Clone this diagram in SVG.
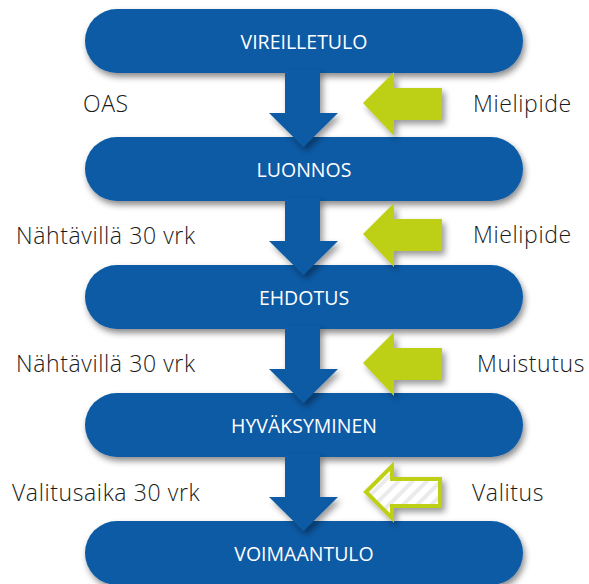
<svg xmlns="http://www.w3.org/2000/svg" width="589" height="584" viewBox="0 0 589 584">
<defs>
<filter id="sh" x="-20%" y="-30%" width="140%" height="170%">
<feDropShadow dx="2" dy="4" stdDeviation="3" flood-color="#000" flood-opacity="0.45"/>
</filter>
<filter id="ash" x="-30%" y="-30%" width="160%" height="160%">
<feDropShadow dx="3" dy="4" stdDeviation="3" flood-color="#000" flood-opacity="0.4"/>
</filter>
<pattern id="stripes" width="10" height="10" patternUnits="userSpaceOnUse" patternTransform="rotate(45)">
<rect width="10" height="10" fill="#ffffff"/>
<rect width="4" height="10" fill="#ebebeb"/>
</pattern>
<path id="barrow" d="M285,0 L320,0 L320,43 L338,43 L303.5,77 L269,43 L285,43 Z"/>
<path id="garrow" d="M363,0 L394,-31 L394,-15 L442,-15 L442,17 L394,17 L394,33 Z"/>
</defs>
<style>
.pill{fill:#0A5AA5;filter:url(#sh)}
.pt{font-family:"Open Sans","Noto Sans",sans-serif;font-size:19.5px;fill:#ffffff;text-anchor:middle}
.lb{font-family:"Open Sans","Noto Sans",sans-serif;font-weight:300;font-size:23px;letter-spacing:0.6px;fill:#1a1a1a}
.blue{fill:#0A5AA5;filter:url(#ash)}
.green{fill:#BED015;filter:url(#ash)}
.gout{fill:url(#stripes);stroke:#BED015;stroke-width:4;stroke-linejoin:miter;filter:url(#ash)}
</style>
<rect width="589" height="584" fill="#ffffff"/>

<g id="n1"><rect class="pill" x="85" y="9" width="438" height="64" rx="32"/><text class="pt" x="304" y="49">VIREILLETULO</text></g>
<g id="n2"><rect class="pill" x="85" y="137" width="438" height="64" rx="32"/><text class="pt" x="304" y="177">LUONNOS</text></g>
<g id="n3"><rect class="pill" x="85" y="265" width="438" height="64" rx="32"/><text class="pt" x="304" y="305">EHDOTUS</text></g>
<g id="n4"><rect class="pill" x="85" y="393" width="438" height="64" rx="32"/><text class="pt" x="304" y="433">HYVÄKSYMINEN</text></g>
<g id="n5"><rect class="pill" x="85" y="521" width="438" height="64" rx="32"/><text class="pt" x="304" y="561">VOIMAANTULO</text></g>

<g id="connectors">
<use href="#barrow" class="blue" transform="translate(0,70)"/>
<use href="#barrow" class="blue" transform="translate(0,198)"/>
<use href="#barrow" class="blue" transform="translate(0,326)"/>
<use href="#barrow" class="blue" transform="translate(0,454)"/>
<use href="#garrow" class="green" transform="translate(0,103)"/>
<use href="#garrow" class="green" transform="translate(0,234)"/>
<use href="#garrow" class="green" transform="translate(0,363)"/>
<path class="gout" d="M366,492 L392,466 L392,479 L440,479 L440,506 L392,506 L392,518 Z"/>
</g>

<g id="labels">
<text class="lb" x="83" y="112">OAS</text>
<text class="lb" x="16" y="244">Nähtävillä 30 vrk</text>
<text class="lb" x="16" y="372">Nähtävillä 30 vrk</text>
<text class="lb" x="12" y="501">Valitusaika 30 vrk</text>
<text class="lb" x="473" y="112">Mielipide</text>
<text class="lb" x="473" y="243">Mielipide</text>
<text class="lb" x="477" y="372">Muistutus</text>
<text class="lb" x="472" y="501">Valitus</text>
</g>
</svg>
